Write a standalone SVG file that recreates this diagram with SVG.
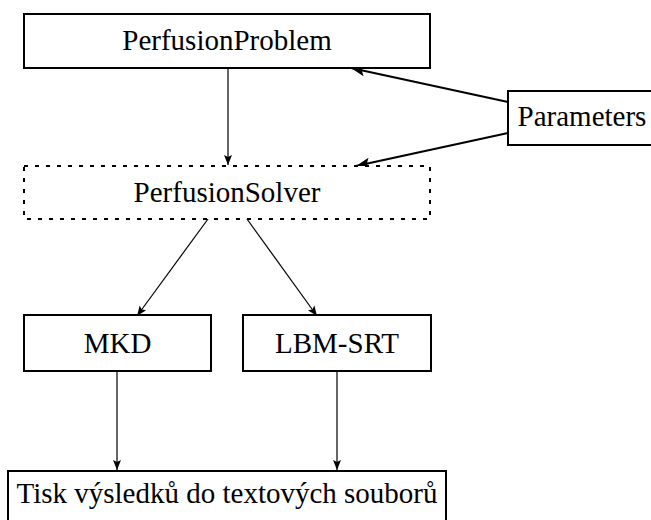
<svg xmlns="http://www.w3.org/2000/svg" width="651" height="520" viewBox="0 0 651 520">
<style>
.box{fill:#fff;stroke:#000;stroke-width:2}
.dash{fill:#fff;stroke:#000;stroke-width:2;stroke-dasharray:4 7}
.lbl{font-size:29px;fill:#000;text-anchor:middle}
.thin{fill:none;stroke:#000;stroke-width:1.2}
.thick{fill:none;stroke:#000;stroke-width:2.2}
</style>
<defs>
<marker id="big" markerUnits="userSpaceOnUse" markerWidth="16" markerHeight="12" viewBox="0 0 16 12" refX="15" refY="6" orient="auto">
<path d="M15,6 L1,0.5 L4,6 L1,11.5 Z" fill="#000"/>
</marker>
<marker id="small" markerUnits="userSpaceOnUse" markerWidth="12" markerHeight="10" viewBox="0 0 12 10" refX="11" refY="5" orient="auto">
<path d="M11,5 L1,1 L3,5 L1,9 Z" fill="#000"/>
</marker>
</defs>
<rect width="651" height="520" fill="#fff"/>
<g id="connectors">
<line class="thin" x1="228" y1="68" x2="228" y2="165" marker-end="url(#small)"/>
<line class="thick" x1="508" y1="102" x2="351" y2="68" marker-end="url(#big)"/>
<line class="thick" x1="508" y1="133" x2="356" y2="166" marker-end="url(#big)"/>
<line class="thin" x1="208" y1="219" x2="137" y2="316" marker-end="url(#small)"/>
<line class="thin" x1="247" y1="219" x2="317" y2="316" marker-end="url(#small)"/>
<line class="thin" x1="117" y1="371" x2="117" y2="470" marker-end="url(#small)"/>
<line class="thin" x1="337" y1="371" x2="337" y2="470" marker-end="url(#small)"/>
</g>
<g font-family="Liberation Serif, Times New Roman, DejaVu Serif, serif">
<g id="perfusionProblem">
<rect class="box" x="24" y="14" width="406" height="54"/>
<text class="lbl" x="227" y="50">PerfusionProblem</text>
</g>
<g id="parameters">
<rect class="box" x="508" y="91" width="150" height="54"/>
<text class="lbl" x="582" y="126">Parameters</text>
</g>
<g id="perfusionSolver">
<rect class="dash" x="24" y="166" width="406" height="53"/>
<text class="lbl" x="227" y="202">PerfusionSolver</text>
</g>
<g id="mkd">
<rect class="box" x="24" y="315" width="187" height="56"/>
<text class="lbl" x="117.5" y="353">MKD</text>
</g>
<g id="lbmSrt">
<rect class="box" x="243" y="315" width="188" height="56"/>
<text class="lbl" x="337" y="353">LBM-SRT</text>
</g>
<g id="output">
<rect class="box" x="8" y="471" width="438" height="60"/>
<text class="lbl" x="227" y="503">Tisk výsledků do textových souborů</text>
</g>
</g>
</svg>
